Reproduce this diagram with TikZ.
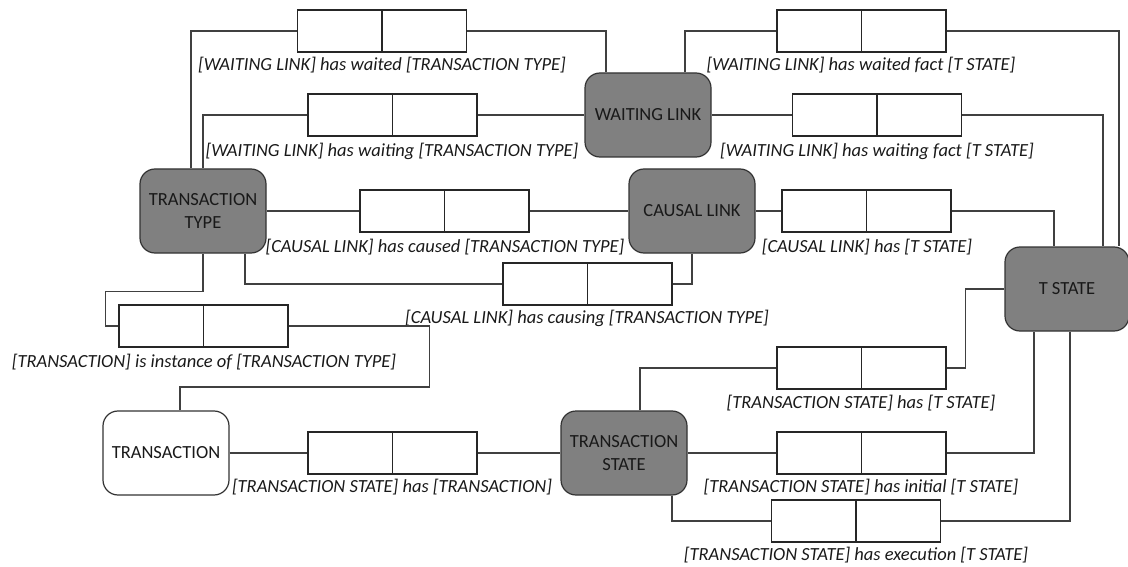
\documentclass[tikz,border=0pt]{standalone}
\usepackage{fontspec}
\setmainfont{Carlito}
\begin{document}
\begin{tikzpicture}[x=1pt,y=-1pt,
  entity/.style={draw=black!80,line width=1.2pt,rounded corners=15pt,fill=black!50,
    minimum width=126pt,minimum height=84pt,inner sep=0pt,align=center,
    font=\fontsize{18.5}{23}\selectfont,text=black!90},
  plain/.style={entity,fill=white},
  fact/.style={draw=black!85,line width=1.1pt,fill=white,minimum width=169pt,
    minimum height=42pt,inner sep=0pt},
  caption/.style={font=\fontsize{18.5}{20}\selectfont\itshape,text=black!90,inner sep=0pt},
  wire/.style={draw=black!75,line width=1.2pt}]
\useasboundingbox (0,0) rectangle (1128,567);

% object types
\node[entity] (wl) at (648,115) {WAITING LINK};
\node[entity] (cl) at (692,211) {CAUSAL LINK};
\node[entity] (tt) at (203,211) {TRANSACTION\\TYPE};
\node[entity] (ts) at (624,453) {TRANSACTION\\STATE};
\node[entity,minimum width=124pt] (st) at (1067,289) {T STATE};
\node[plain] (tr) at (166,453) {TRANSACTION};

% fact type boxes
\node[fact] (b1) at (382,31) {};
\node[fact] (b2) at (392.5,115) {};
\node[fact] (b3) at (444.5,211) {};
\node[fact] (b4) at (587.5,284) {};
\node[fact] (b5) at (203.5,326) {};
\node[fact] (b6) at (392.5,453) {};
\node[fact] (b7) at (861.5,368) {};
\node[fact] (b8) at (861.5,453) {};
\node[fact] (b9) at (856,521) {};
\node[fact] (b10) at (861.5,31) {};
\node[fact] (b11) at (877,115) {};
\node[fact] (b12) at (866.5,211) {};
\foreach \b in {b1,b2,b3,b4,b5,b6,b7,b8,b9,b10,b11,b12}
  \draw[draw=black!85,line width=1.1pt] (\b.north) -- (\b.south);

% fact type readings
\node[caption] (l1) at (382,65) {[WAITING LINK] has waited [TRANSACTION TYPE]};
\node[caption] (l2) at (392,151) {[WAITING LINK] has waiting [TRANSACTION TYPE]};
\node[caption] (l3) at (445,247) {[CAUSAL LINK] has caused [TRANSACTION TYPE]};
\node[caption] (l4) at (587,318) {[CAUSAL LINK] has causing [TRANSACTION TYPE]};
\node[caption] (l5) at (204,362) {[TRANSACTION] is instance of [TRANSACTION TYPE]};
\node[caption] (l6) at (392,487) {[TRANSACTION STATE] has [TRANSACTION]};
\node[caption] (l7) at (861,403) {[TRANSACTION STATE] has [T STATE]};
\node[caption] (l8) at (861,487) {[TRANSACTION STATE] has initial [T STATE]};
\node[caption] (l9) at (856,555) {[TRANSACTION STATE] has execution [T STATE]};
\node[caption] (l10) at (861,65) {[WAITING LINK] has waited fact [T STATE]};
\node[caption] (l11) at (877,151) {[WAITING LINK] has waiting fact [T STATE]};
\node[caption] (l12) at (867,247) {[CAUSAL LINK] has [T STATE]};

% roles
\path[wire] ([xshift=-12pt]tt.north) |- (b1.west);
\path[wire] (b1.east) -| ([xshift=-42pt]wl.north);
\path[wire] (tt.north) |- (b2.west);
\path[wire] (b2.east) -- (wl.west);
\path[wire] (tt.east) -- (b3.west);
\path[wire] (b3.east) -- (cl.west);
\path[wire] ([xshift=42pt]tt.south) |- (b4.west);
\path[wire] (b4.east) -| (cl.south);
\path[wire] (tt.south) -- ++(0,38) -| ([xshift=-13pt]b5.west) -- (b5.west);
\path[wire] (b5.east) -- ++(141,0) -- ++(0,61) -| ([xshift=14pt]tr.north);
\path[wire] (tr.east) -- (b6.west);
\path[wire] (b6.east) -- (ts.west);
\path[wire] ([xshift=16pt]ts.north) |- (b7.west);
\path[wire] (b7.east) -- ++(19,0) |- (st.west);
\path[wire] (ts.east) -- (b8.west);
\path[wire] (b8.east) -| ([xshift=-33pt]st.south);
\path[wire] ([xshift=48pt]ts.south) |- (b9.west);
\path[wire] (b9.east) -| ([xshift=3pt]st.south);
\path[wire] ([xshift=37pt]wl.north) |- (b10.west);
\path[wire] (b10.east) -| ([xshift=52pt]st.north);
\path[wire] (wl.east) -- (b11.west);
\path[wire] (b11.east) -| ([xshift=36pt]st.north);
\path[wire] (cl.east) -- (b12.west);
\path[wire] (b12.east) -| ([xshift=-13pt]st.north);
\end{tikzpicture}
\end{document}
